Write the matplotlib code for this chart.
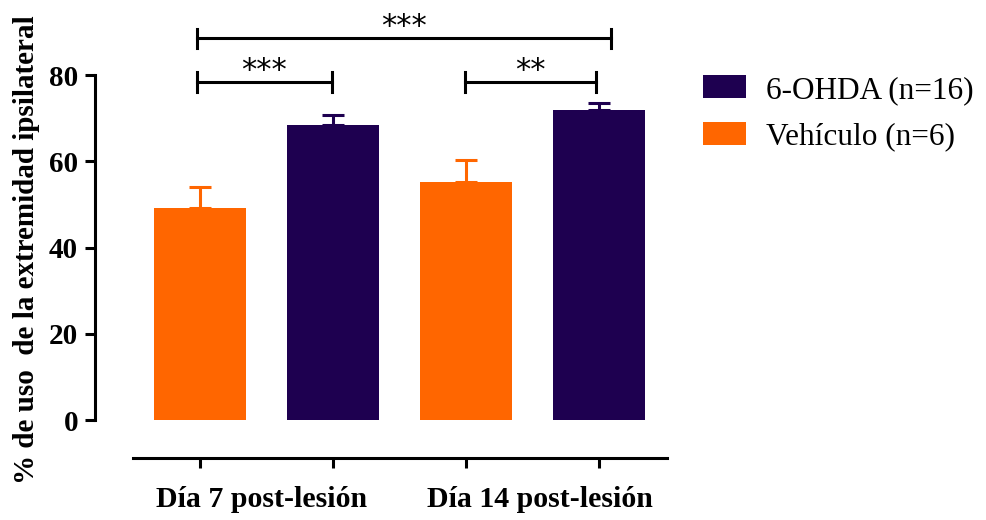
import matplotlib.pyplot as plt

# data
groups = ['Día 7 post-lesión', 'Día 14 post-lesión']
series = ['6-OHDA (n=16)', 'Vehículo (n=6)']
vehiculo_mean = [49.2, 55.2]
vehiculo_err = [4.8, 5.1]
ohda_mean = [68.4, 71.9]
ohda_err = [2.3, 1.6]
yticks = [0, 20, 40, 60, 80]

orange = '#FF6600'
purple = '#1E0050'

plt.rcParams['font.family'] = ['Liberation Serif', 'DejaVu Serif']

fig = plt.figure(figsize=(9.86, 5.2), dpi=100)
ax = fig.add_axes([0.0963, 0.1923, 0.580, 0.769])

# bar order: vehiculo d7, 6-OHDA d7, vehiculo d14, 6-OHDA d14
xv = [0, 2]
xo = [1, 3]
w = 0.69
ax.bar(xo, ohda_mean, width=w, color=purple, label=series[0], zorder=2)
ax.bar(xv, vehiculo_mean, width=w, color=orange, label=series[1], zorder=2)
ax.errorbar(xv, vehiculo_mean, yerr=[[0, 0], vehiculo_err], fmt='none',
            ecolor=orange, elinewidth=2.2, capsize=8, capthick=2.2, zorder=1)
ax.errorbar(xo, ohda_mean, yerr=[[0, 0], ohda_err], fmt='none',
            ecolor=purple, elinewidth=2.2, capsize=8, capthick=2.2, zorder=1)

ax.set_xlim(-0.789, 3.511)
ax.set_ylim(0, 92.75)

ax.spines['top'].set_visible(False)
ax.spines['right'].set_visible(False)
ax.spines['left'].set_linewidth(2.2)
ax.spines['left'].set_bounds(0, 80)
ax.spines['bottom'].set_linewidth(2.2)
ax.spines['bottom'].set_position(('outward', 27.4))
ax.spines['bottom'].set_bounds(-0.504, 3.511)

ax.set_yticks(yticks)
ax.set_yticklabels([str(t) for t in yticks], fontsize=21, fontweight='bold')
ax.set_xticks([0, 1, 2, 3])
ax.set_xticklabels([])
ax.tick_params(axis='both', length=7.2, width=2.2)
ax.tick_params(axis='y', pad=5)

for xc, lab in zip([0.46, 2.56], groups):
    ax.text(xc, -15.2, lab, ha='center', va='top', fontsize=21.5,
            fontweight='bold', transform=ax.transData)

ax.set_ylabel('% de uso  de la extremidad ipsilateral', fontsize=21,
              fontweight='bold')
ax.yaxis.set_label_coords(-0.096, 0.425)


# significance brackets
def bracket(x1, x2, y, h, txt):
    ax.plot([x1, x2], [y, y], color='black', lw=2.2, clip_on=False)
    ax.plot([x1, x1], [y - h, y + h], color='black', lw=2.2, clip_on=False)
    ax.plot([x2, x2], [y - h, y + h], color='black', lw=2.2, clip_on=False)
    ax.text((x1 + x2) / 2, y + 0.6, txt, ha='center', va='baseline',
            fontsize=22, family='DejaVu Sans', clip_on=False)


bracket(-0.02, 0.99, 78.4, 2.4, '***')
bracket(1.99, 2.98, 78.4, 2.4, '**')
bracket(-0.02, 3.09, 88.6, 2.2, '***')

leg = fig.legend(loc='upper left', bbox_to_anchor=(0.713, 0.855), frameon=False,
                 fontsize=22.5, handlelength=1.38, handleheight=0.75,
                 handletextpad=0.65, labelspacing=0.55, borderpad=0,
                 borderaxespad=0)

fig.savefig('out.png', dpi=100)
